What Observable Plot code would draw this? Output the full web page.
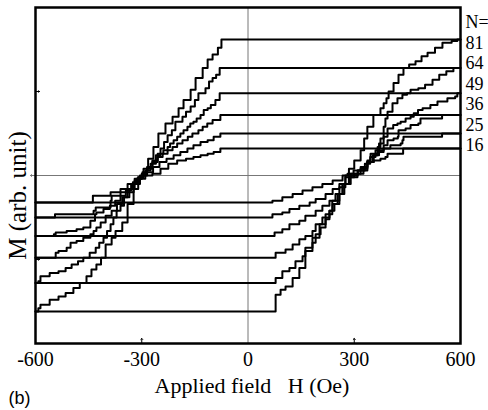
<!DOCTYPE html>
<html><head><meta charset="utf-8">
<script src="https://cdn.jsdelivr.net/npm/d3@7"></script>
<script src="https://cdn.jsdelivr.net/npm/@observablehq/plot@0.6"></script>
<style>body{margin:0;background:#fff}</style>
</head><body><div id="chart"></div>
<script>
// Loop sizes N and tick values
const nValues = [81, 64, 49, 36, 25, 16];
const xTicks = [-600, -300, 0, 300, 600];
const xInnerTicks = [-300, 300];
const yInnerTicks = [50, -50];
const labelRows = ["N=", "81", "64", "49", "36", "25", "16"];

// Each branch: [H (Oe), M (arb. unit)] staircase corners
const asc81 = [[-600,-81],[63,-81],[78,-71],[92,-68],[106,-66],[126,-61],[145,-55],[162,-45],[182,-37],[202,-29],[219,-23],[238,-15],[258,-7],[275,0],[285,4],[300,9],[318,15],[328,22],[337,29],[354,36],[374,40],[383,43],[391,46],[397,50],[411,55],[425,60],[439,64],[455,66],[473,68],[490,71],[507,73],[528,76],[549,79],[575,80],[591,81],[600,81]];
const desc81 = [[600,81],[-69,81],[-75,76],[-85,72],[-100,69],[-114,64],[-128,58],[-148,51],[-162,45],[-182,40],[-196,35],[-213,31],[-233,25],[-253,17],[-267,10],[-282,4],[-295,-1],[-310,-8],[-323,-17],[-340,-28],[-355,-33],[-374,-37],[-385,-41],[-402,-49],[-415,-53],[-428,-56],[-442,-60],[-456,-64],[-475,-67],[-493,-70],[-515,-72],[-535,-74],[-560,-77],[-586,-79],[-592,-81],[-600,-81]];
const asc64 = [[-600,-64],[63,-64],[78,-61],[97,-57],[117,-55],[134,-51],[154,-48],[162,-43],[182,-40],[191,-35],[205,-31],[219,-26],[230,-21],[239,-17],[253,-11],[267,-5],[285,-1],[309,1],[326,5],[337,9],[346,13],[366,17],[374,22],[383,29],[388,34],[394,38],[408,43],[422,46],[436,48],[449,49],[459,51],[481,52],[500,54],[521,57],[540,60],[560,62],[580,64],[600,64]];
const desc64 = [[600,64],[-72,64],[-80,60],[-90,58],[-100,56],[-110,52],[-120,49],[-140,45],[-150,41],[-162,38],[-175,35],[-185,32],[-205,27],[-215,24],[-227,20],[-237,16],[-247,12],[-260,7],[-275,3],[-290,0],[-305,-3],[-320,-8],[-335,-13],[-350,-18],[-360,-21],[-371,-25],[-380,-29],[-388,-33],[-398,-37],[-408,-40],[-420,-43],[-430,-46],[-447,-49],[-465,-51],[-480,-53],[-498,-55],[-515,-57],[-535,-58],[-560,-60],[-586,-63],[-592,-64],[-600,-64]];
const asc49 = [[-600,-49],[63,-49],[78,-46],[106,-44],[126,-41],[145,-38],[162,-36],[182,-33],[191,-29],[210,-25],[230,-21],[244,-17],[258,-11],[272,-5],[290,0],[310,3],[330,7],[345,11],[360,15],[370,19],[383,23],[394,28],[410,30],[422,31],[431,32],[445,34],[459,35],[468,37],[480,39],[493,40],[515,42],[535,44],[563,46],[585,47],[591,49],[600,49]];
const desc49 = [[600,49],[-69,49],[-80,45],[-92,42],[-105,40],[-114,39],[-125,36],[-134,34],[-145,32],[-154,31],[-163,29],[-171,27],[-182,25],[-191,23],[-200,21],[-210,19],[-220,17],[-227,15],[-239,13],[-255,9],[-270,5],[-285,2],[-298,-1],[-310,-4],[-325,-8],[-340,-13],[-355,-17],[-370,-21],[-385,-24],[-402,-28],[-416,-31],[-428,-33],[-436,-35],[-445,-37],[-465,-39],[-484,-40],[-501,-43],[-512,-45],[-535,-46],[-543,-49],[-600,-49]];
const asc36 = [[-600,-36],[63,-36],[75,-34],[97,-32],[117,-29],[145,-27],[162,-24],[191,-21],[210,-18],[230,-15],[247,-11],[267,-5],[285,-1],[300,1],[318,4],[337,8],[355,12],[370,15],[383,18],[394,21],[411,22],[423,23],[425,27],[445,28],[459,30],[481,31],[487,34],[544,34],[548,36],[600,36]];
const desc36 = [[600,36],[-69,36],[-78,33],[-100,31],[-115,29],[-128,27],[-140,25],[-157,23],[-170,21],[-185,19],[-200,17],[-213,15],[-227,13],[-241,11],[-255,8],[-270,4],[-285,1],[-300,-2],[-315,-5],[-330,-9],[-345,-12],[-360,-15],[-375,-18],[-390,-20],[-408,-22],[-428,-23],[-432,-27],[-445,-31],[-465,-32],[-484,-33],[-512,-34],[-543,-35],[-548,-36],[-600,-36]];
const asc25 = [[-600,-25],[61,-25],[69,-23],[97,-22],[117,-20],[145,-18],[174,-16],[191,-14],[219,-11],[239,-8],[258,-5],[275,-1],[290,1],[310,3],[337,8],[352,12],[366,14],[383,16],[402,18],[431,19],[436,21],[439,23],[544,23],[548,25],[600,25]];
const desc25 = [[600,25],[-69,25],[-78,23],[-97,21],[-114,20],[-134,18],[-154,16],[-171,14],[-191,12],[-210,10],[-230,8],[-250,5],[-268,2],[-285,0],[-300,-2],[-320,-5],[-340,-8],[-360,-12],[-385,-15],[-388,-19],[-428,-19],[-430,-21],[-436,-23],[-543,-23],[-545,-25],[-600,-25]];
const asc16 = [[-600,-16],[61,-16],[69,-15],[97,-13],[126,-11],[154,-9],[182,-7],[210,-5],[239,-3],[267,0],[281,1],[298,3],[318,5],[337,8],[355,9],[374,10],[388,11],[394,13],[436,13],[438,16],[600,16]];
const desc16 = [[600,16],[-69,16],[-78,14],[-97,13],[-114,12],[-134,11],[-154,10],[-175,9],[-200,7],[-225,4],[-247,1],[-270,0],[-290,-2],[-305,-5],[-323,-10],[-388,-12],[-436,-12],[-438,-16],[-600,-16]];

const ascending = [asc81, asc64, asc49, asc36, asc25, asc16];
const descending = [desc81, desc64, desc49, desc36, desc25, desc16];

const rows = [];
nValues.forEach((n, i) => {
  ascending[i].forEach(([H, M]) => rows.push({key: n + "a", H, M}));
  descending[i].forEach(([H, M]) => rows.push({key: n + "d", H, M}));
});

const serif = "'Liberation Serif', 'Times New Roman', serif";

const chart = Plot.plot({
  width: 488,
  height: 410,
  marginLeft: 35,
  marginRight: 28,
  marginTop: 7,
  marginBottom: 67,
  x: {domain: [-600, 600]},
  y: {domain: [-100, 100], axis: null},
  style: {fontFamily: serif, background: "#fff", color: "#000", overflow: "visible"},
  marks: [
    Plot.ruleX([0], {stroke: "#777", strokeWidth: 1}),
    Plot.ruleY([0], {stroke: "#777", strokeWidth: 1}),
    Plot.vectorY([0], {frameAnchor: "left", rotate: -90, length: 5, anchor: "start", stroke: "#777", strokeWidth: 1}),
    Plot.vectorX(xInnerTicks, {frameAnchor: "bottom", length: 5, anchor: "start", stroke: "#000", strokeWidth: 1}),
    Plot.vectorY(yInnerTicks, {frameAnchor: "left", rotate: 90, length: 4, anchor: "start", stroke: "#000", strokeWidth: 1}),
    Plot.line(rows, {x: "H", y: "M", z: "key", curve: "step-after", stroke: "#000", strokeWidth: 2}),
    Plot.frame({stroke: "#000", strokeWidth: 2.5}),
    Plot.axisX(xTicks, {tickSize: 0, tickPadding: 8, fontSize: 20, label: null, fontFamily: serif, tickFormat: d => String(d)}),
    ...labelRows.map((t, i) => Plot.text([t], {
      frameAnchor: "top-right", textAnchor: "start", lineAnchor: "middle",
      dx: 5, dy: 15 + i * 20.5, fontSize: 18, fontFamily: serif, fill: "#000"
    })),
    Plot.text(["Applied field\u00a0\u00a0\u00a0H (Oe)"], {
      frameAnchor: "bottom", textAnchor: "middle", lineAnchor: "middle", dx: 4, dy: 42, fontSize: 22, fontFamily: serif, fill: "#000"
    }),
    Plot.text(["M (arb. unit)"], {
      frameAnchor: "left", textAnchor: "middle", rotate: -90, lineAnchor: "middle", dx: -18, dy: 20, fontSize: 25, fontFamily: serif, fill: "#000"
    }),
    Plot.text(["(b)"], {
      frameAnchor: "bottom-left", textAnchor: "start", lineAnchor: "middle", dx: -27, dy: 55, fontSize: 18,
      fontFamily: "'Liberation Sans', Arial, sans-serif", fill: "#000"
    })
  ]
});
document.getElementById("chart").append(chart);
</script>
</body></html>
